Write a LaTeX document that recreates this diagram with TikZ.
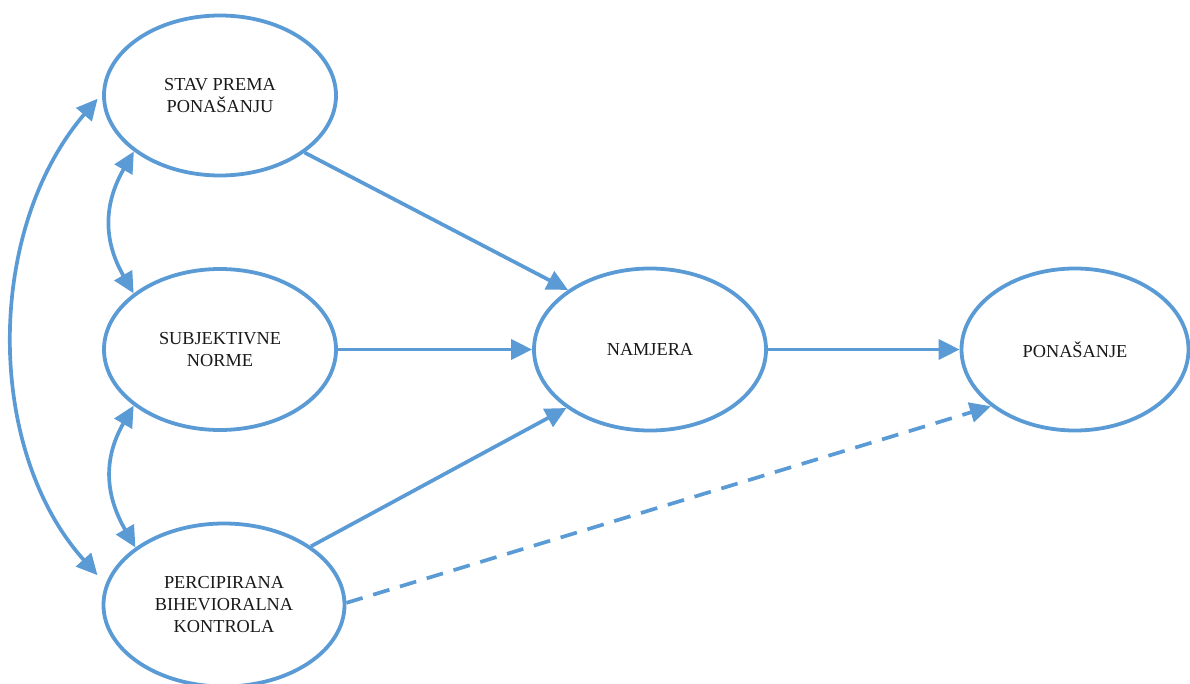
\documentclass[tikz,border=0pt]{standalone}
\usepackage{fontspec}
\setmainfont{Liberation Serif}
\usetikzlibrary{shapes.geometric,arrows.meta}
\definecolor{lineblue}{HTML}{5B9BD5}
\begin{document}
\begin{tikzpicture}[x=1pt,y=-1pt,
  state/.style={ellipse, draw=lineblue, line width=3.8pt, inner sep=0pt, align=center,
    font=\fontsize{18.3}{22}\selectfont, text=black!90},
  link/.style={draw=lineblue, line width=3.7pt, -{Triangle[length=21pt,width=20pt]}},
  both/.style={draw=lineblue, line width=3.7pt,
    {Triangle[length=21pt,width=20pt]}-{Triangle[length=21pt,width=20pt]}},
]
\useasboundingbox (0,0) rectangle (1190,684);
\node[state, minimum width=232pt, minimum height=160pt] (e1) at (220,95.5) {STAV PREMA\\PONAŠANJU};
\node[state, minimum width=232pt, minimum height=161pt] (e2) at (220,349.5) {SUBJEKTIVNE\\NORME};
\node[state, minimum width=241pt, minimum height=163pt] (e3) at (224,605) {PERCIPIRANA\\BIHEVIORALNA\\KONTROLA};
\node[state, minimum width=232pt, minimum height=162pt] (e4) at (650,349.5) {NAMJERA};
\node[state, minimum width=227pt, minimum height=162pt] (e5) at (1075,349.5) {PONAŠANJE};

\draw[link] (e1.-34.7) -- (e4.144.4);
\draw[link] (e2.east) -- (e4.west);
\draw[link] (e3.34.9) -- (e4.215.2);
\draw[link] (e4.east) -- (e5.west);
\draw[link, dash pattern=on 17pt off 11pt] (e3.1) -- (e5.214.7);

\draw[both] (e1.213.5) to[out=240,in=120,looseness=1.1] (e2.147.6);
\draw[both] (e2.213) to[out=240,in=120,looseness=1.1] (e3.147.4);
\draw[both, shorten <=7pt, shorten >=12pt] (e1.179) .. controls (-15,230) and (-15,450) .. (e3.170.5);
\end{tikzpicture}
\end{document}
